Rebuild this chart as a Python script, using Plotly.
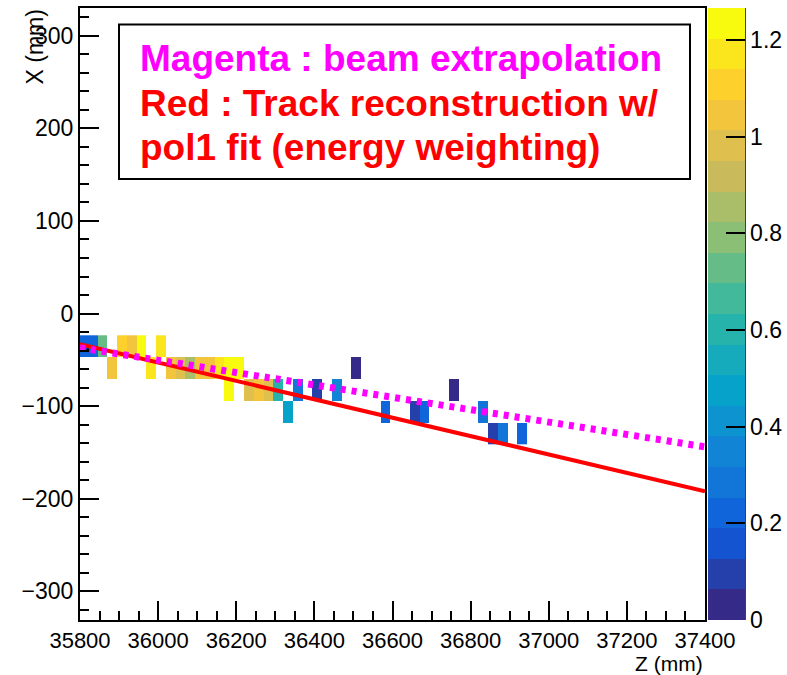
import plotly.graph_objects as go

# ---- energy deposits per cell: Z centre (mm), X centre (mm), energy ----
cell_z = [35807.5, 35832.5, 35857.5, 35882.5, 35907.5, 35932.5, 35957.5, 35982.5,
          36007.5, 36032.5, 36057.5, 36082.5, 36107.5, 36132.5, 36157.5, 36182.5,
          36182.5, 36207.5, 36232.5, 36257.5, 36282.5, 36307.5, 36332.5, 36357.5,
          36407.5, 36457.5, 36507.5, 36582.5, 36657.5, 36682.5, 36757.5, 36832.5,
          36857.5, 36882.5, 36932.5]
cell_x = [-35.25, -35.25, -35.25, -58.75, -35.25, -35.25, -35.25, -58.75,
          -35.25, -58.75, -58.75, -58.75, -58.75, -58.75, -58.75, -58.75,
          -82.25, -58.75, -82.25, -82.25, -82.25, -82.25, -105.75, -82.25,
          -82.25, -82.25, -58.75, -105.75, -105.75, -105.75, -82.25, -105.75,
          -129.25, -129.25, -129.25]
cell_e = [0.22, 0.22, 0.74, 1.04, 1.10, 1.04, 1.25, 1.18,
          1.20, 1.04, 0.98, 0.88, 1.06, 1.02, 1.20, 1.25,
          1.25, 1.22, 1.00, 1.06, 0.95, 0.60, 0.46, 0.30,
          0.08, 0.33, 0.05, 0.20, 0.08, 0.25, 0.06, 0.30,
          0.08, 0.28, 0.20]

# beam extrapolation (magenta) and pol1 track fit (red), end points in (Z, X)
beam_z = [35800, 37400]
beam_x = [-37, -144]
fit_z = [35800, 37400]
fit_x = [-33, -192]
beam_point_z = [35820]
beam_point_x = [-39]

# colour axis
E_MAX = 1.266
cbar_vals = [0, 0.2, 0.4, 0.6, 0.8, 1.0, 1.2]
cbar_text = ["0", "0.2", "0.4", "0.6", "0.8", "1", "1.2"]

# cell pitch
DZ = 25.0
DX = 23.5

# ---- build the 2D grid ----
z0 = min(cell_z)
x0 = min(cell_x)
ncol = int(round((max(cell_z) - z0) / DZ)) + 1
nrow = int(round((max(cell_x) - x0) / DX)) + 1
grid = [[None] * ncol for _ in range(nrow)]
for zc, xc, e in zip(cell_z, cell_x, cell_e):
    grid[int(round((xc - x0) / DX))][int(round((zc - z0) / DZ))] = e

# ROOT kBird palette, 20 contour levels
stops = [0.0, 0.125, 0.25, 0.375, 0.5, 0.625, 0.75, 0.875, 1.0]
red = [0.2082, 0.0592, 0.0780, 0.0232, 0.1802, 0.5301, 0.8186, 0.9956, 0.9764]
green = [0.1664, 0.3599, 0.5041, 0.6419, 0.7178, 0.7492, 0.7328, 0.7862, 0.9832]
blue = [0.5293, 0.8684, 0.8385, 0.7914, 0.6425, 0.4662, 0.3499, 0.1968, 0.0539]


def bird(t):
    for i in range(len(stops) - 1):
        if t <= stops[i + 1]:
            f = (t - stops[i]) / (stops[i + 1] - stops[i])
            break
    else:
        i, f = len(stops) - 2, 1.0
    r = red[i] + f * (red[i + 1] - red[i])
    g = green[i] + f * (green[i + 1] - green[i])
    b = blue[i] + f * (blue[i + 1] - blue[i])
    return "rgb(%d,%d,%d)" % (round(r * 255), round(g * 255), round(b * 255))


NLEV = 20
colorscale = []
for i in range(NLEV):
    c = bird(i / (NLEV - 1))
    colorscale.append([i / NLEV, c])
    colorscale.append([(i + 1) / NLEV, c])

FONT = "Liberation Sans, Arial, Helvetica, sans-serif"
TICKFONT = dict(family=FONT, size=23, color="black")
XTICKFONT = dict(family=FONT, size=22, color="black")

# plot geometry (px)
W, H = 787, 675
L, R, T, B = 80, 82, 8, 55
PW = W - L - R
PH = H - T - B

fig = go.Figure()

fig.add_trace(go.Heatmap(
    z=grid, x0=z0, dx=DZ, y0=x0, dy=DX,
    zmin=0, zmax=E_MAX, colorscale=colorscale,
    hoverongaps=False,
    colorbar=dict(
        x=(708 - L) / PW, xanchor="left", xpad=0,
        y=0.5, yanchor="middle", ypad=0,
        len=1, lenmode="fraction",
        thickness=37, thicknessmode="pixels",
        outlinewidth=0,
        ticks="inside", ticklen=19, tickwidth=1.5, tickcolor="black",
        tickvals=cbar_vals, ticktext=cbar_text,
        tickfont=TICKFONT,
    ),
))

fig.add_trace(go.Scatter(
    x=fit_z, y=fit_x, mode="lines",
    line=dict(color="#ff0000", width=4),
    showlegend=False, hoverinfo="skip",
))
fig.add_trace(go.Scatter(
    x=beam_z, y=beam_x, mode="lines",
    line=dict(color="#ff00ff", width=7, dash="5px,6px"),
    showlegend=False, hoverinfo="skip",
))
fig.add_trace(go.Scatter(
    x=beam_point_z, y=beam_point_x, mode="markers",
    marker=dict(color="black", size=3),
    showlegend=False, hoverinfo="skip",
))

axis_common = dict(
    showline=True, linecolor="black", linewidth=2, mirror=True,
    ticks="inside", ticklen=19, tickwidth=1.5, tickcolor="black",
    showgrid=False, zeroline=False, tickformat="d",
)
fig.update_xaxes(range=[35800, 37400], tick0=35800, dtick=200, tickfont=XTICKFONT,
                 minor=dict(ticks="inside", ticklen=9, dtick=50, tickcolor="black",
                            tickwidth=1.5, showgrid=False),
                 **axis_common)
fig.update_yaxes(range=[-331, 330], tick0=0, dtick=100, tickfont=TICKFONT,
                 minor=dict(ticks="inside", ticklen=9, dtick=20, tickcolor="black",
                            tickwidth=1.5, showgrid=False),
                 **axis_common)

# right edge of the colour bar
fig.add_shape(type="line", xref="paper", yref="paper",
              x0=(745 - L) / PW, x1=(745 - L) / PW, y0=0, y1=1,
              line=dict(color="black", width=1.5))

# text box
fig.add_shape(type="rect", xref="paper", yref="paper",
              x0=(119 - L) / PW, x1=(690 - L) / PW,
              y0=(H - B - 179) / PH, y1=(H - B - 24.5) / PH,
              line=dict(color="black", width=2), fillcolor="white", layer="above")

box_lines = [
    ("Magenta : beam extrapolation", "#ff00ff", 58.5),
    ("Red : Track reconstruction w/", "#ff0000", 103),
    ("pol1 fit (energy weighting)", "#ff0000", 147.5),
]
for txt, col, ypx in box_lines:
    fig.add_annotation(text="<b>%s</b>" % txt, xref="paper", yref="paper",
                       x=(138 - L) / PW, y=(H - B - ypx) / PH,
                       xanchor="left", yanchor="middle", showarrow=False,
                       font=dict(family=FONT, size=37, color=col))

# axis titles
fig.add_annotation(text="Z (mm)", xref="paper", yref="paper",
                   x=(705 - L) / PW, y=(H - B - 663) / PH,
                   xanchor="right", yanchor="middle", showarrow=False,
                   font=dict(family=FONT, size=21, color="black"))
fig.add_annotation(text="X (mm)", xref="paper", yref="paper",
                   x=(34 - L) / PW, y=(H - B - 8) / PH, textangle=-90,
                   xanchor="center", yanchor="top", showarrow=False,
                   font=dict(family=FONT, size=23, color="black"))

fig.update_layout(
    width=W, height=H,
    margin=dict(l=L, r=R, t=T, b=B, autoexpand=False),
    paper_bgcolor="white", plot_bgcolor="white",
    showlegend=False,
)

fig.write_html("out.html")
